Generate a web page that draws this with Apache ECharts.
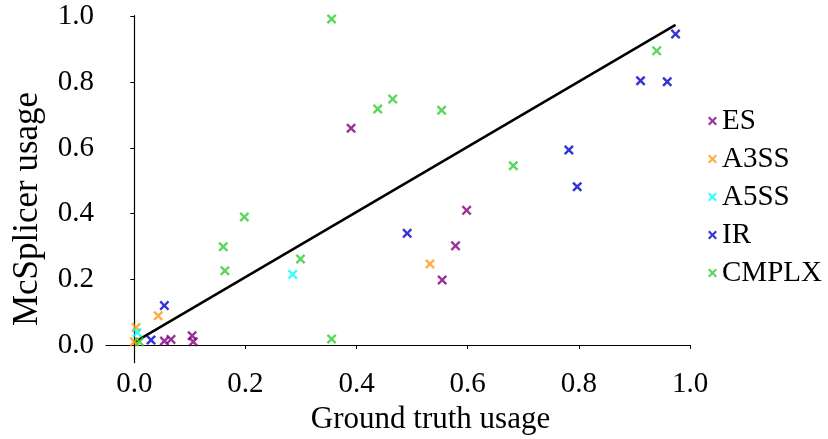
<!DOCTYPE html>
<html>
<head>
<meta charset="utf-8">
<script src="https://cdn.jsdelivr.net/npm/echarts@6/dist/echarts.min.js"></script>
<style>
    html, body { margin: 0; padding: 0; background: #fff; }
    #chart { width: 828px; height: 439px; }
</style>
</head>
<body>
<div id="chart"></div>
<script>
const SERIF = '"Liberation Serif", "DejaVu Serif", serif';
const X_MARK = 'path://M0,1.7L1.7,0L5,3.3L8.3,0L10,1.7L6.7,5L10,8.3L8.3,10L5,6.7L1.7,10L0,8.3L3.3,5Z';

const tickValues = [0, 0.2, 0.4, 0.6, 0.8, 1.0];
const groupNames = ['ES', 'A3SS', 'A5SS', 'IR', 'CMPLX'];
const groupColors = ['#800080', '#ff9a14', '#00ffff', '#0000cd', '#32cd32'];

// [ground truth, mcsplicer]
const esPoints = [
    [0.390, 0.660], [0.554, 0.198], [0.578, 0.302], [0.598, 0.410],
    [0.054, 0.012], [0.066, 0.017], [0.104, 0.028], [0.106, 0.010]
];
const a3ssPoints = [
    [0.532, 0.247], [0.043, 0.089], [0.003, 0.053], [0.000, 0.010]
];
const a5ssPoints = [
    [0.285, 0.215], [0.005, 0.038]
];
const irPoints = [
    [0.974, 0.947], [0.911, 0.805], [0.959, 0.802], [0.782, 0.594],
    [0.797, 0.482], [0.491, 0.340], [0.054, 0.120], [0.030, 0.015]
];
const cmplxPoints = [
    [0.355, 0.993], [0.438, 0.719], [0.465, 0.749], [0.553, 0.715],
    [0.198, 0.390], [0.160, 0.299], [0.163, 0.226], [0.299, 0.262],
    [0.940, 0.896], [0.682, 0.546], [0.355, 0.018], [0.009, 0.010]
];
const fitLine = [[0.002, 0.010], [0.974, 0.975]];

const groupPoints = [esPoints, a3ssPoints, a5ssPoints, irPoints, cmplxPoints];

function axisCommon(labelMargin) {
    return {
        type: 'value',
        splitLine: { show: false },
        axisLine: { show: true, lineStyle: { color: '#000', width: 1.2 } },
        axisTick: {
            show: true, length: 4, customValues: tickValues,
            lineStyle: { color: '#000', width: 1 }
        },
        axisLabel: {
            customValues: tickValues,
            margin: labelMargin,
            color: '#000',
            fontFamily: SERIF,
            fontSize: 29,
            formatter: v => v.toFixed(1)
        }
    };
}

const chart = echarts.init(document.getElementById('chart'));

const scatterSeries = groupNames.map((name, i) => ({
    name,
    type: 'scatter',
    data: groupPoints[i],
    symbol: X_MARK,
    symbolSize: 10,
    itemStyle: { color: groupColors[i] },
    z: 3
}));

chart.setOption({
    animation: false,
    backgroundColor: '#fff',
    grid: { left: 106, right: 138, top: 15.7, bottom: 76.3 },
    xAxis: Object.assign(axisCommon(7), { min: -0.051, max: 1.0 }),
    yAxis: Object.assign(axisCommon(12), { min: -0.054, max: 1.003 }),
    legend: {
        data: groupNames,
        orient: 'vertical',
        left: 703,
        top: 101,
        itemWidth: 9,
        itemHeight: 9,
        itemGap: 8,
        icon: X_MARK,
        textStyle: {
            color: '#000', fontFamily: SERIF, fontSize: 29,
            lineHeight: 30, padding: [0, 0, 0, 0]
        }
    },
    graphic: [
        {
            type: 'text', x: 430.5, y: 420,
            style: {
                text: 'Ground truth usage', fill: '#000',
                font: '31px ' + SERIF, align: 'center', verticalAlign: 'middle'
            }
        },
        {
            type: 'text', x: 28, y: 209, rotation: Math.PI / 2,
            style: {
                text: 'McSplicer usage', fill: '#000',
                font: '35px ' + SERIF, align: 'center', verticalAlign: 'middle'
            }
        }
    ],
    series: scatterSeries.concat([{
        name: 'fit',
        type: 'line',
        data: fitLine,
        symbol: 'none',
        lineStyle: { color: '#000', width: 2.5 },
        z: 2
    }])
});

window.addEventListener('resize', () => chart.resize());
</script>
</body>
</html>
